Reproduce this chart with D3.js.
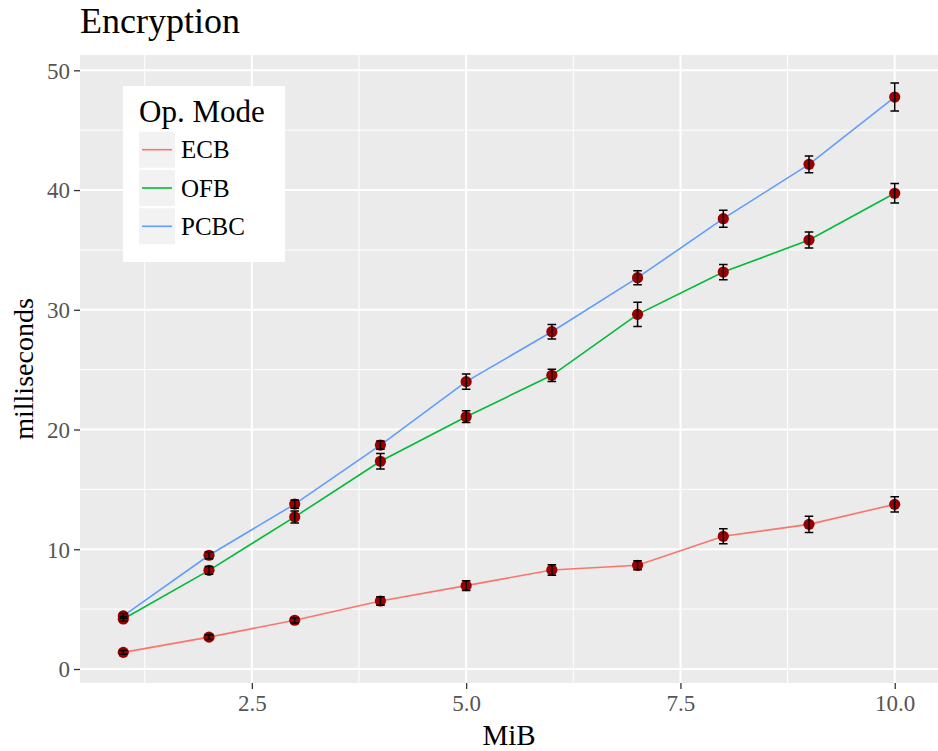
<!DOCTYPE html>
<html>
<head>
<meta charset="utf-8">
<script src="https://cdn.jsdelivr.net/npm/d3@7"></script>
<style>
  html, body { margin: 0; padding: 0; background: #ffffff; }
  svg { display: block; font-family: "Liberation Serif", "DejaVu Serif", serif; }
</style>
</head>
<body>
<svg id="chart" width="938" height="751"></svg>
<script>
// Message sizes (MiB)
const sizes = [1, 2, 3, 4, 5, 6, 7, 8, 9, 10];

// Mean encryption time (ms) and error half-widths per operation mode
const ecbMs    = [1.39, 2.66, 4.07, 5.68, 6.96, 8.27, 8.66, 11.08, 12.08, 13.75];
const ecbErr   = [0.15, 0.20, 0.22, 0.36, 0.40, 0.44, 0.37, 0.63, 0.67, 0.63];
const ofbMs    = [4.18, 8.24, 12.70, 17.35, 21.07, 24.53, 29.62, 33.15, 35.83, 39.73];
const ofbErr   = [0.20, 0.32, 0.50, 0.65, 0.49, 0.51, 1.02, 0.64, 0.67, 0.81];
const pcbcMs   = [4.43, 9.50, 13.77, 18.70, 24.00, 28.17, 32.68, 37.61, 42.15, 47.77];
const pcbcErr  = [0.20, 0.30, 0.35, 0.35, 0.63, 0.61, 0.58, 0.71, 0.70, 1.17];

const modeNames  = ["ECB", "OFB", "PCBC"];
const modeColors = ["#F8766D", "#00BA38", "#619CFF"];

const xTicks      = [2.5, 5.0, 7.5, 10.0];
const xMinorTicks = [1.25, 3.75, 6.25, 8.75];
const yTicks      = [0, 10, 20, 30, 40, 50];
const yMinorTicks = [5, 15, 25, 35, 45];

const series = [
  { name: modeNames[0], color: modeColors[0], mean: ecbMs,  err: ecbErr },
  { name: modeNames[1], color: modeColors[1], mean: ofbMs,  err: ofbErr },
  { name: modeNames[2], color: modeColors[2], mean: pcbcMs, err: pcbcErr }
].map(s => ({ ...s, pts: sizes.map((x, i) => ({ x, y: s.mean[i], e: s.err[i] })) }));

const svg = d3.select("#chart");
const panel = { left: 80, top: 55, right: 938, bottom: 683 };
const capWidth = 0.1; // error bar cap width in MiB

const x = d3.scaleLinear().domain([0.495, 10.505]).range([panel.left, panel.right]);
const y = d3.scaleLinear().domain([-1.17, 51.28]).range([panel.bottom, panel.top]);

// Panel background
svg.append("rect")
  .attr("x", panel.left).attr("y", panel.top)
  .attr("width", panel.right - panel.left).attr("height", panel.bottom - panel.top)
  .attr("fill", "#EBEBEB");

// Grid lines
const grid = svg.append("g");
grid.selectAll(".xminor").data(xMinorTicks).join("line")
  .attr("x1", d => x(d)).attr("x2", d => x(d))
  .attr("y1", panel.top).attr("y2", panel.bottom)
  .attr("stroke", "#ffffff").attr("stroke-width", 1);
grid.selectAll(".yminor").data(yMinorTicks).join("line")
  .attr("y1", d => y(d)).attr("y2", d => y(d))
  .attr("x1", panel.left).attr("x2", panel.right)
  .attr("stroke", "#ffffff").attr("stroke-width", 1);
grid.selectAll(".xmajor").data(xTicks).join("line")
  .attr("x1", d => x(d)).attr("x2", d => x(d))
  .attr("y1", panel.top).attr("y2", panel.bottom)
  .attr("stroke", "#ffffff").attr("stroke-width", 2);
grid.selectAll(".ymajor").data(yTicks).join("line")
  .attr("y1", d => y(d)).attr("y2", d => y(d))
  .attr("x1", panel.left).attr("x2", panel.right)
  .attr("stroke", "#ffffff").attr("stroke-width", 2);

// Series lines
const line = d3.line().x(d => x(d.x)).y(d => y(d.y));
svg.append("g").selectAll("path").data(series).join("path")
  .attr("d", d => line(d.pts))
  .attr("fill", "none")
  .attr("stroke", d => d.color)
  .attr("stroke-width", 1.6);

// Points
const allPts = series.flatMap(s => s.pts);
svg.append("g").selectAll("circle").data(allPts).join("circle")
  .attr("cx", d => x(d.x)).attr("cy", d => y(d.y))
  .attr("r", 5.6)
  .attr("fill", "#990000");

// Error bars
const eb = svg.append("g").attr("stroke", "#000000").attr("stroke-width", 1.5).attr("fill", "none");
eb.selectAll("path").data(allPts).join("path")
  .attr("d", d => {
    const x0 = x(d.x - capWidth / 2), x1 = x(d.x + capWidth / 2), xc = x(d.x);
    const yt = y(d.y + d.e), yb = y(d.y - d.e);
    return `M${x0},${yt}H${x1}M${xc},${yt}V${yb}M${x0},${yb}H${x1}`;
  });

// Axes
const xAxis = d3.axisBottom(x).tickValues(xTicks).tickFormat(d3.format(".1f")).tickSize(6).tickPadding(4);
const yAxis = d3.axisLeft(y).tickValues(yTicks).tickFormat(d3.format("d")).tickSize(6).tickPadding(4);

const gx = svg.append("g").attr("transform", `translate(0,${panel.bottom})`).call(xAxis);
const gy = svg.append("g").attr("transform", `translate(${panel.left},0)`).call(yAxis);
[gx, gy].forEach(g => {
  g.select(".domain").remove();
  g.selectAll(".tick line").attr("stroke", "#333333").attr("stroke-width", 1.3);
  g.selectAll(".tick text")
    .attr("fill", "#555555")
    .style("font-family", "'Liberation Serif', serif")
    .style("font-size", "23px");
});
gx.selectAll(".tick text").attr("dy", "0.78em");
gy.selectAll(".tick text").attr("dy", "0.34em");

// Axis titles
svg.append("text")
  .attr("x", (panel.left + panel.right) / 2).attr("y", 745)
  .attr("text-anchor", "middle")
  .style("font-size", "29px").attr("fill", "#000")
  .text("MiB");
svg.append("text")
  .attr("transform", `translate(33,${(panel.top + panel.bottom) / 2}) rotate(-90)`)
  .attr("text-anchor", "middle")
  .style("font-size", "28px").attr("fill", "#000")
  .text("milliseconds");

// Title
svg.append("text")
  .attr("x", panel.left).attr("y", 33)
  .style("font-size", "36px").attr("fill", "#000")
  .text("Encryption");

// Legend
const legend = svg.append("g");
legend.append("rect")
  .attr("x", 123).attr("y", 86).attr("width", 162).attr("height", 176)
  .attr("fill", "#ffffff");
legend.append("text")
  .attr("x", 139).attr("y", 122)
  .style("font-size", "31px").attr("fill", "#000")
  .text("Op. Mode");
const keys = legend.selectAll(".key").data(series).join("g")
  .attr("transform", (d, i) => `translate(139,${131.7 + i * 38.3})`);
keys.append("rect")
  .attr("width", 36).attr("height", 36)
  .attr("fill", "#F2F2F2");
keys.append("line")
  .attr("x1", 3).attr("x2", 33).attr("y1", 18).attr("y2", 18)
  .attr("stroke", d => d.color).attr("stroke-width", 1.6);
keys.append("text")
  .attr("x", 42).attr("y", 26.5)
  .style("font-size", "25px").attr("fill", "#000")
  .text(d => d.name);
</script>
</body>
</html>
